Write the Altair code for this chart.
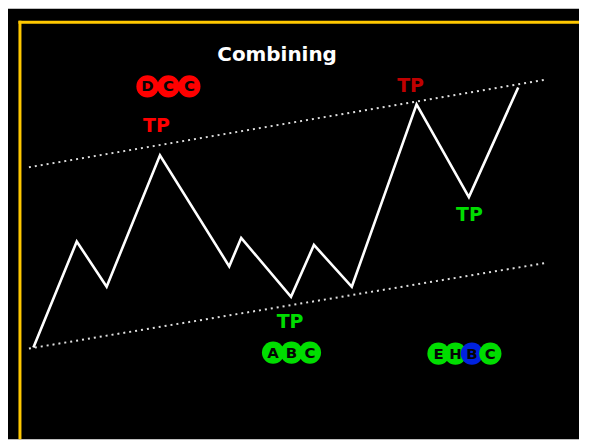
import altair as alt
import pandas as pd

# zigzag wave (time units, price units)
wave_x = [25.5, 69, 99, 152.5, 222, 234, 284, 307, 345, 410, 462.5, 512]
wave_y = [100, 206.5, 161, 293, 181.5, 210, 151, 203, 161, 344, 251, 361]

# channel lines
upper_x = [21, 540]
upper_y = [281, 369]
lower_x = [21, 540]
lower_y = [99, 185]

# TP labels
tp_x = [149, 404, 463, 283]
tp_y = [322, 362, 233, 126]
tp_kind = ["top", "top2", "bottom", "bottom"]

# circled wave letters
circ_x = [140, 161, 182, 266, 284.5, 303, 432, 449, 465.5, 484]
circ_y = [362, 362, 362, 95, 95, 95, 94, 94, 94, 94]
circ_letter = ["D", "C", "C", "A", "B", "C", "E", "H", "B", "C"]
circ_group = ["red", "red", "red", "green", "green", "green", "green", "green", "blue", "green"]

title_text = "Combining"

W, H = 573, 432
xs = alt.Scale(domain=[0, W], nice=False, zero=False)
ys = alt.Scale(domain=[8, 8 + H], nice=False, zero=False)

wave = pd.DataFrame({"x": wave_x, "y": wave_y, "i": list(range(len(wave_x)))})
chan = pd.DataFrame({
    "x": upper_x + lower_x,
    "y": upper_y + lower_y,
    "line": ["upper"] * len(upper_x) + ["lower"] * len(lower_x),
})
tp = pd.DataFrame({"x": tp_x, "y": tp_y, "kind": tp_kind, "label": ["TP"] * len(tp_x)})
circ = pd.DataFrame({"x": circ_x, "y": circ_y, "letter": circ_letter, "group": circ_group})
one = pd.DataFrame({"a": [0]})

bg = alt.Chart(one).mark_rect(color="black").encode(
    x=alt.value(0), x2=alt.value(W), y=alt.value(0), y2=alt.value(H)
)
yellow_v = alt.Chart(one).mark_rule(color="#ffc800", strokeWidth=3).encode(
    x=alt.value(12), y=alt.value(12), y2=alt.value(H)
)
yellow_h = alt.Chart(one).mark_rule(color="#ffc800", strokeWidth=3).encode(
    x=alt.value(10.5), x2=alt.value(W), y=alt.value(13.5)
)
title = alt.Chart(one).mark_text(
    text=title_text, color="white", font="DejaVu Sans", fontWeight="bold", fontSize=20,
    align="center", baseline="middle"
).encode(x=alt.value(270), y=alt.value(46))

channels = alt.Chart(chan).mark_line(
    color="#e0e0e0", strokeWidth=2, strokeDash=[2, 4]
).encode(
    x=alt.X("x:Q", scale=xs, axis=None),
    y=alt.Y("y:Q", scale=ys, axis=None),
    detail="line:N",
)

line = alt.Chart(wave).mark_line(color="white", strokeWidth=2.6).encode(
    x=alt.X("x:Q", scale=xs, axis=None),
    y=alt.Y("y:Q", scale=ys, axis=None),
    order="i:Q",
)

tps = alt.Chart(tp).mark_text(
    font="DejaVu Sans", fontWeight="bold", fontSize=19, align="center", baseline="middle"
).encode(
    x=alt.X("x:Q", scale=xs, axis=None),
    y=alt.Y("y:Q", scale=ys, axis=None),
    text="label:N",
    color=alt.Color("kind:N", scale=alt.Scale(domain=["top", "top2", "bottom"],
                                              range=["#ff0000", "#c00000", "#00dd00"]), legend=None),
)

circles = alt.Chart(circ).mark_point(filled=True, shape="circle", size=500, opacity=1).encode(
    x=alt.X("x:Q", scale=xs, axis=None),
    y=alt.Y("y:Q", scale=ys, axis=None),
    fill=alt.Fill("group:N", scale=alt.Scale(domain=["red", "green", "blue"],
                                             range=["#ff0000", "#00dd00", "#0022e0"]), legend=None),
)
letters = alt.Chart(circ).mark_text(
    font="DejaVu Sans", fontWeight="bold", fontSize=15, color="#050505",
    align="center", baseline="middle"
).encode(
    x=alt.X("x:Q", scale=xs, axis=None),
    y=alt.Y("y:Q", scale=ys, axis=None),
    text="letter:N",
)

chart = alt.layer(bg, yellow_v, yellow_h, channels, line, tps, circles, letters, title).resolve_scale(
    color="independent", fill="independent"
).properties(
    width=W, height=H, padding=0, background="white"
).configure_view(stroke=None)

chart.save("out.html", embed_options={"renderer": "svg", "actions": False})
